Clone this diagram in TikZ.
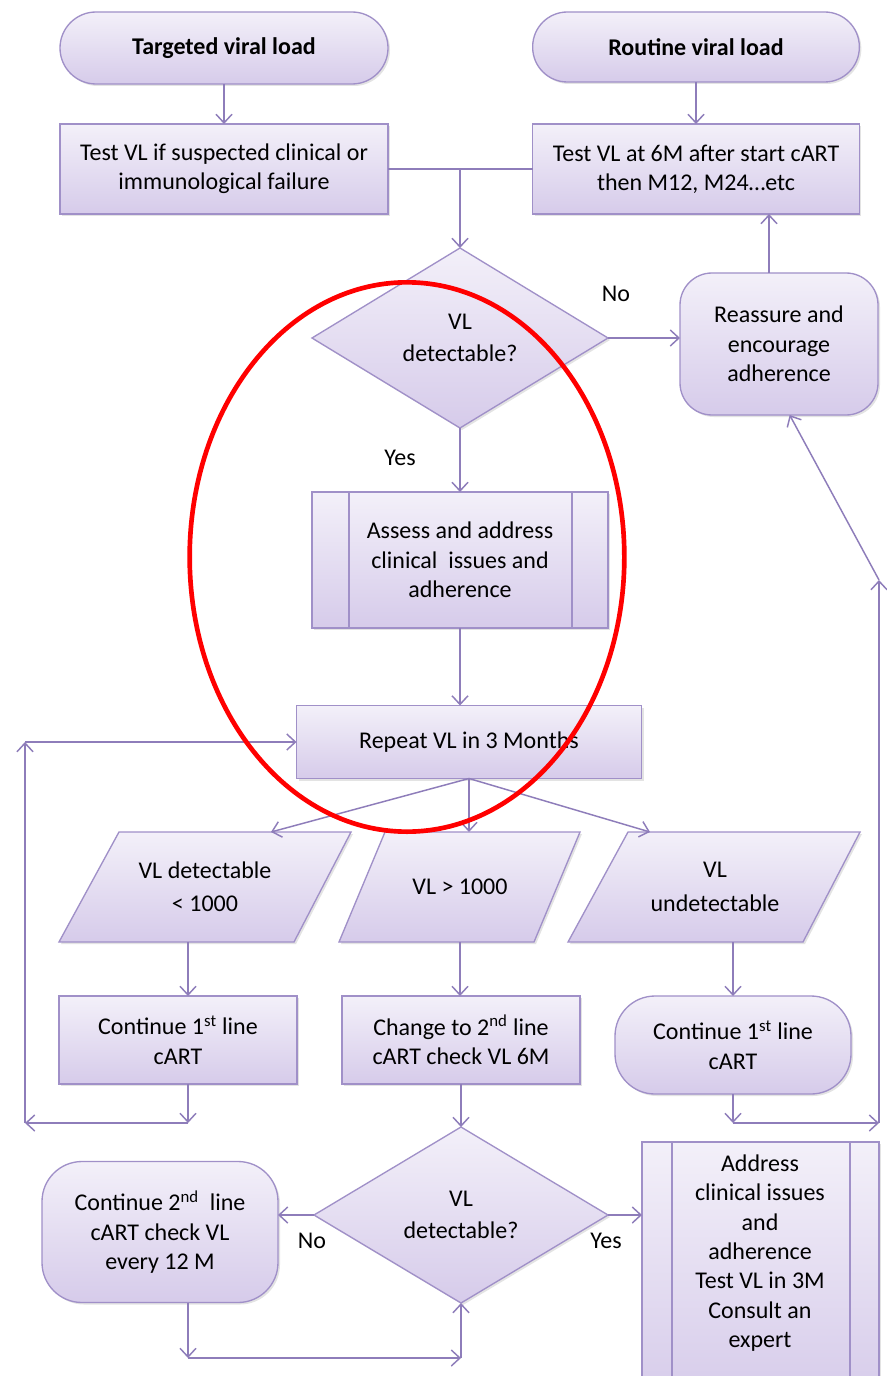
\documentclass[tikz,border=0pt]{standalone}
\usepackage{fontspec}
\setmainfont{Carlito}
\usetikzlibrary{shapes.geometric,arrows.meta,shadows,calc}
\definecolor{lavTop}{HTML}{F3F0F9}
\definecolor{lavBot}{HTML}{D6CBEA}
\definecolor{lavLine}{HTML}{A090C8}
\definecolor{arrC}{HTML}{8E7DBA}
\newcommand\fsz{\fontsize{18}{22}\selectfont}
\begin{document}
\begin{tikzpicture}[x=0.75pt,y=-0.75pt,
  fillsty/.style={draw=lavLine, line width=1pt, top color=lavTop, bottom color=lavBot,
    drop shadow={opacity=0.22,shadow xshift=1.5pt,shadow yshift=-1.5pt}},
  box/.style={fillsty, inner sep=2pt, outer sep=0pt, align=center, font=\fsz},
  rect/.style={box, rectangle},
  term/.style={box, rectangle},
  dia/.style={box, diamond, aspect=1.64},
  ptext/.style={rectangle, inner sep=0pt, outer sep=0pt, align=center, font=\fsz, minimum height=82.5pt},
  arr/.style={draw=arrC, line width=1.1pt, -{Straight Barb[length=6.5pt,width=12pt]}},
  ln/.style={draw=arrC, line width=1.1pt},
  inln/.style={draw=lavLine, line width=1pt},
  lab/.style={font=\fsz, inner sep=0pt}]
\useasboundingbox (0,0) rectangle (887,1376);
\fill[white] (0,0) rectangle (887,1376);

% nodes
\node[term, font=\fsz\bfseries, minimum width=246pt, minimum height=54pt, rounded corners=27pt] (tgt) at (224,48) {Targeted viral load};
\node[term, font=\fsz\bfseries, minimum width=245pt, minimum height=52.5pt, rounded corners=26pt] (rtn) at (696,47) {Routine viral load};
\node[rect, minimum width=246pt, minimum height=67.5pt] (tst1) at (224,169) {Test VL if suspected clinical or\\immunological failure};
\node[rect, minimum width=245pt, minimum height=67.5pt] (tst2) at (696,169) {Test VL at 6M after start cART\\then M12, M24…etc};
\node[dia, minimum width=222pt, minimum height=135pt] (d1) at (460,338) {VL\\[2pt]detectable?};
\node[term, rounded corners=24pt, minimum width=148.5pt, minimum height=106.5pt] (reas) at (779,344) {Reassure and\\encourage\\adherence};
\node[rect, minimum width=222pt, minimum height=102pt] (ass) at (460,560) {Assess and address\\clinical\ \ issues and\\adherence};
\draw[inln] ([xshift=27.75pt]ass.north west) -- ([xshift=27.75pt]ass.south west);
\draw[inln] ([xshift=-27pt]ass.north east) -- ([xshift=-27pt]ass.south east);
\node[rect, minimum width=258.75pt, minimum height=54.75pt] (rep) at (469,742) {Repeat VL in 3 Months};

% parallelograms
\path[fillsty] (119,832) -- (351,832) -- (294,942) -- (59,942) -- cycle;
\path[fillsty] (385,832) -- (580,832) -- (534,942) -- (339,942) -- cycle;
\path[fillsty] (628,832) -- (860,832) -- (803,942) -- (568,942) -- cycle;
\node[ptext, minimum width=174pt] (p1) at (205,887) {VL detectable\\[3pt]< 1000};
\node[ptext, minimum width=146pt] (p2) at (460,887) {VL > 1000};
\node[ptext, minimum width=174pt] (p3) at (715,887) {VL\\[3pt]undetectable};

\node[rect, minimum width=178.5pt, minimum height=66pt] (c1) at (178,1040) {Continue 1\textsuperscript{st} line\\cART};
\node[rect, minimum width=178.5pt, minimum height=66pt] (c2) at (461,1040) {Change to 2\textsuperscript{nd} line\\cART check VL 6M};
\node[term, rounded corners=30pt, minimum width=177pt, minimum height=73.5pt] (c3) at (733,1045) {Continue 1\textsuperscript{st} line\\cART};
\node[dia, minimum width=220.5pt, minimum height=132pt] (d2) at (461,1215) {VL\\[2pt]detectable?};
\node[term, rounded corners=30pt, minimum width=177pt, minimum height=105.75pt] (c4) at (160,1232) {Continue 2\textsuperscript{nd}\ \ line\\cART check VL\\every 12 M};
\node[rect, minimum width=177.75pt, minimum height=195pt, anchor=north] (addrbox) at (760.5,1142) {};
\draw[inln] ([xshift=22.5pt]addrbox.north west) -- ([xshift=22.5pt]addrbox.south west);
\draw[inln] ([xshift=-21.75pt]addrbox.north east) -- ([xshift=-21.75pt]addrbox.south east);
\node[align=center, font=\fsz, inner sep=0pt] (addr) at (760,1253) {Address\\clinical issues\\and\\adherence\\Test VL in 3M\\Consult an\\expert};

% labels
\node[lab] (no1) at (616,294) {No};
\node[lab] (yes1) at (400,458) {Yes};
\node[lab] (no2) at (312,1241) {No};
\node[lab] (yes2) at (606,1241) {Yes};

% connectors
\draw[arr] (tgt.south) -- (tst1.north);
\draw[arr] (rtn.south) -- (tst2.north);
\draw[ln] (tst1.east) -- (tst2.west);
\coordinate (j1) at (460,169);
\draw[arr] (j1) -- (d1.north);
\draw[arr] (d1.east) -- (d1.east -| reas.west);
\draw[arr] ([xshift=-7.5pt]reas.north) -- ([xshift=-7.5pt]reas.north |- tst2.south);
\draw[arr] (d1.south) -- (ass.north);
\draw[arr] (ass.south) -- (ass.south |- rep.north);
\draw[arr] (rep.south) -- ($(p1.north)+(66,0)$);
\draw[arr] (rep.south) -- (rep.south |- p2.north);
\draw[arr] (rep.south) -- ($(p3.north)+(-65,0)$);
\coordinate (x188) at (188,0);
\draw[arr] (p1.south -| x188) -- (c1.north -| x188);
\draw[arr] (p2.south) -- (p2.south |- c2.north);
\draw[arr] (c3.north |- p3.south) -- (c3.north);
\coordinate (l1) at (188,1123);
\coordinate (l2) at (25,1123);
\coordinate (l3) at (25,742);
\draw[arr] (c1.south -| l1) -- (l1);
\draw[arr] (l1) -- (l2);
\draw[arr] (l2) -- (l3);
\draw[arr] (l3) -- (rep.west);
\draw[arr] (c2.south) -- (d2.north);
\coordinate (r1) at (733,1123);
\coordinate (r2) at (879,1123);
\coordinate (r3) at (879,580);
\draw[arr] (c3.south) -- (r1);
\draw[arr] (r1) -- (r2);
\draw[arr] (r2) -- (r3);
\draw[arr] (r3) -- ([xshift=8pt]reas.south);
\draw[arr] (d2.west) -- (d2.west -| c4.east);
\draw[arr] (d2.east) -- (d2.east -| addrbox.west);
\coordinate (b1) at (188,1358);
\coordinate (b2) at (461,1358);
\draw[arr] (c4.south -| b1) -- (b1);
\draw[arr] (b1) -- (b2);
\draw[arr] (b2) -- (d2.south);

% red ellipse
\draw[red, line width=3.5pt] (407,557) ellipse [x radius=163pt, y radius=206pt];
\end{tikzpicture}
\end{document}
